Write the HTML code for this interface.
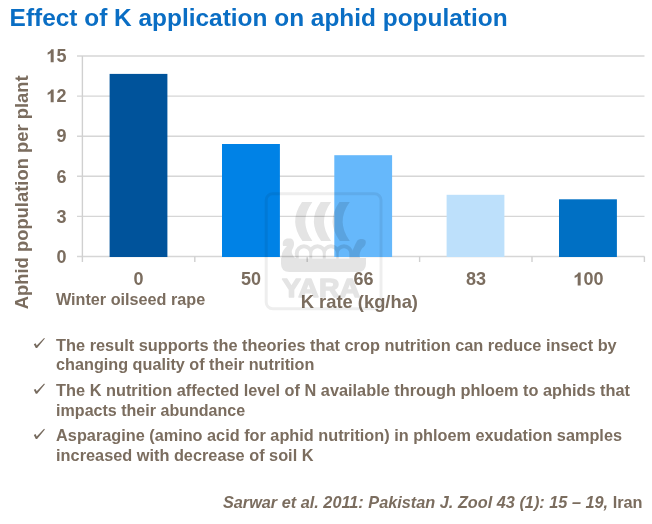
<!DOCTYPE html>
<html>
<head>
<meta charset="utf-8">
<style>
html,body{margin:0;padding:0;background:#fff;width:652px;height:524px;overflow:hidden;}
svg{position:absolute;left:0;top:0;display:block;will-change:transform;filter:blur(0.35px);}
text{font-family:"Liberation Sans",sans-serif;}
</style>
</head>
<body>
<svg width="652" height="524" viewBox="0 0 652 524">
  <defs>
    <mask id="wm" maskUnits="userSpaceOnUse" x="0" y="0" width="652" height="524">
      <rect x="0" y="0" width="652" height="524" fill="#000"/>
      <rect x="266.2" y="193.7" width="114.8" height="115.1" rx="6.5" ry="6.5" fill="none" stroke="#a0a0a0" stroke-width="3"/>
      <g fill="#fff">
        <path d="M302 202 L312.4 202 Q298.2 221.5 312.4 241 L302.4 241 Q288.2 221.5 302 202 Z"/>
        <path d="M320.7 202 L331.1 202 Q316.9 221.5 331.1 241 L321.1 241 Q306.9 221.5 320.7 202 Z"/>
        <path d="M339.4 202 L349.8 202 Q335.6 221.5 349.8 241 L339.8 241 Q325.6 221.5 339.4 202 Z"/>
        <circle cx="304" cy="253.5" r="9.2"/>
        <circle cx="317.5" cy="253.5" r="9.2"/>
        <circle cx="331" cy="253.5" r="9.2"/>
        <circle cx="344" cy="253.5" r="9.2"/>
        <path d="M281 258 L366 258 L366 263.5 Q366 272 357.5 272 L289.5 272 Q281 272 281 263.5 Z"/>
        <path d="M281.5 258 C281.5 252 284 249 287 246 L283 246 C282 242 284 238.6 288 238.6 L291 238.6 C294.5 240 295 245 292.5 249 C290.5 252 293 256 295 258 Z"/>
        <path d="M350 258 C352 252 354 246 357 241 C359 238.5 363 238.5 365.5 240.5 C366.5 243 365 246.5 362.5 248 C360 251 359 255 360 258 Z"/>
      </g>
      <g fill="#000">
        <path d="M298.7 258.4 L298.7 253.5 A5.3 5.3 0 0 1 309.3 253.5 L309.3 258.4 Z"/>
        <path d="M312.2 258.4 L312.2 253.5 A5.3 5.3 0 0 1 322.8 253.5 L322.8 258.4 Z"/>
        <path d="M325.7 258.4 L325.7 253.5 A5.3 5.3 0 0 1 336.3 253.5 L336.3 258.4 Z"/>
        <path d="M338.7 258.4 L338.7 253.5 A5.3 5.3 0 0 1 349.3 253.5 L349.3 258.4 Z"/>
      </g>
      <text x="282" y="296.8" font-size="25" font-weight="bold" fill="#fff" stroke="#fff" stroke-width="1.3" stroke-linejoin="round" textLength="78" lengthAdjust="spacingAndGlyphs">YARA</text>
    </mask>
  </defs>

  <!-- title -->
  <text x="9.6" y="26" font-size="24.2" font-weight="bold" fill="#0a6ec4" textLength="498" lengthAdjust="spacingAndGlyphs">Effect of K application on aphid population</text>

  <!-- gridlines -->
  <g stroke="#d6d6d6" stroke-width="1.4">
    <line x1="77" y1="56" x2="644.5" y2="56"/>
    <line x1="77" y1="96.1" x2="644.5" y2="96.1"/>
    <line x1="77" y1="136.2" x2="644.5" y2="136.2"/>
    <line x1="77" y1="176.3" x2="644.5" y2="176.3"/>
    <line x1="77" y1="216.4" x2="644.5" y2="216.4"/>
    <line x1="77" y1="256.5" x2="644.5" y2="256.5"/>
  </g>
  <g stroke="#d0d0d0" stroke-width="1.4">
    <line x1="82.4" y1="56" x2="82.4" y2="262"/>
    <line x1="194.8" y1="256.5" x2="194.8" y2="262"/>
    <line x1="307.2" y1="256.5" x2="307.2" y2="262"/>
    <line x1="419.6" y1="256.5" x2="419.6" y2="262"/>
    <line x1="532" y1="256.5" x2="532" y2="262"/>
    <line x1="644.4" y1="256.5" x2="644.4" y2="262"/>
  </g>
  <!-- bars -->
  <rect x="109.6" y="73.9" width="57.8" height="183.1" fill="#00539b"/>
  <rect x="222" y="144" width="57.9" height="113" fill="#0082e6"/>
  <rect x="334.3" y="155.2" width="57.8" height="101.8" fill="#66b8fb"/>
  <rect x="446.6" y="194.8" width="57.8" height="62.2" fill="#bde0fb"/>
  <rect x="559" y="199.3" width="57.9" height="57.7" fill="#0070c4"/>
  <!-- y labels -->
  <g font-size="18" font-weight="bold" fill="#7b6d5f" text-anchor="end">
    <text x="66.5" y="62.2">5</text>
    <text x="66.5" y="102.3">2</text>
    <text x="66.5" y="142.4">9</text>
    <text x="66.5" y="182.5">6</text>
    <text x="66.5" y="222.6">3</text>
    <text x="66.5" y="262.7">0</text>
  </g>
  <!-- x labels -->
  <g font-size="18" font-weight="bold" fill="#7b6d5f" text-anchor="middle">
    <text x="138.5" y="285.4">0</text>
    <text x="251" y="285.4">50</text>
    <text x="363.5" y="285.4">66</text>
    <text x="476" y="285.4">83</text>
    <text x="593.5" y="285.4">00</text>
  </g>
  <g fill="#7b6d5f">
    <path transform="translate(46.5,62.2) scale(0.018,-0.018)" d="M398 0 H232 V505 Q162 442 62 408 V536 Q120 555 184 604 Q247 653 268 716 H398 Z"/>
    <path transform="translate(46.5,102.3) scale(0.018,-0.018)" d="M398 0 H232 V505 Q162 442 62 408 V536 Q120 555 184 604 Q247 653 268 716 H398 Z"/>
    <path transform="translate(573.5,285.4) scale(0.018,-0.018)" d="M398 0 H232 V505 Q162 442 62 408 V536 Q120 555 184 604 Q247 653 268 716 H398 Z"/>
  </g>
  <text x="55.9" y="305.4" font-size="16.3" font-weight="bold" fill="#7b6d5f" textLength="149.3" lengthAdjust="spacingAndGlyphs">Winter oilseed rape</text>
  <text x="300.7" y="308" font-size="18.2" font-weight="bold" fill="#7b6d5f" textLength="117.3" lengthAdjust="spacingAndGlyphs">K rate (kg/ha)</text>
  <text transform="translate(28.2,309.3) rotate(-90)" x="0" y="0" font-size="18.2" font-weight="bold" fill="#7b6d5f" textLength="234" lengthAdjust="spacingAndGlyphs">Aphid population per plant</text>

  <!-- bullets -->
  <g font-size="16.2" font-weight="bold" fill="#7b6d5f">
    <text x="56.1" y="350.5" textLength="560.6" lengthAdjust="spacingAndGlyphs">The result supports the theories that crop nutrition can reduce insect by</text>
    <text x="56.1" y="369.8" textLength="258.3" lengthAdjust="spacingAndGlyphs">changing quality of their nutrition</text>
    <text x="56.1" y="395.9" textLength="573.9" lengthAdjust="spacingAndGlyphs">The K nutrition affected level of N available through phloem to aphids that</text>
    <text x="56.1" y="415.6" textLength="189.1" lengthAdjust="spacingAndGlyphs">impacts their abundance</text>
    <text x="56.1" y="441.1" textLength="565.9" lengthAdjust="spacingAndGlyphs">Asparagine (amino acid for aphid nutrition) in phloem exudation samples</text>
    <text x="56.1" y="460.5" textLength="257.4" lengthAdjust="spacingAndGlyphs">increased with decrease of soil K</text>
  </g>
  <g fill="#766a5e">
    <path d="M33.8 344.2 L35.6 343.3 L36.7 345.6 L44.1 337.9 L44.9 338.6 L37.1 348.1 L35.8 348.1 Z"/>
    <path transform="translate(0,45.6)" d="M33.8 344.2 L35.6 343.3 L36.7 345.6 L44.1 337.9 L44.9 338.6 L37.1 348.1 L35.8 348.1 Z"/>
    <path transform="translate(0,90.8)" d="M33.8 344.2 L35.6 343.3 L36.7 345.6 L44.1 337.9 L44.9 338.6 L37.1 348.1 L35.8 348.1 Z"/>
  </g>

  <!-- reference -->
  <text x="222.9" y="508" font-size="16.3" font-weight="bold" fill="#7b6d5f"><tspan font-style="italic">Sarwar et al. 2011: Pakistan J. Zool 43 (1): 15 – 19, </tspan><tspan>Iran</tspan></text>

  <!-- watermark overlay -->
  <rect x="0" y="0" width="652" height="524" fill="#000" opacity="0.105" mask="url(#wm)"/>
</svg>
</body>
</html>
